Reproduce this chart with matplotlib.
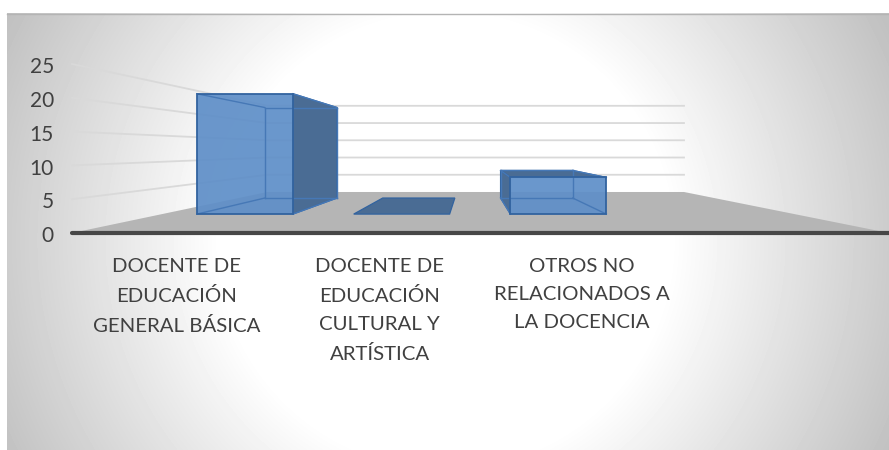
import numpy as np
import matplotlib
matplotlib.use("Agg")
import matplotlib.pyplot as plt
from matplotlib.patches import Polygon
from matplotlib.transforms import ScaledTranslation

categories = ["DOCENTE DE\nEDUCACIÓN\nGENERAL BÁSICA",
              "DOCENTE DE\nEDUCACIÓN\nCULTURAL Y\nARTÍSTICA",
              "OTROS NO\nRELACIONADOS A\nLA DOCENCIA"]
values = [23, 0, 7]
y_ticks = [0, 5, 10, 15, 20, 25]

W, H = 889, 450
plt.rcParams['font.family'] = ['Lato', 'DejaVu Sans']
fig = plt.figure(figsize=(W / 100, H / 100), dpi=100, facecolor='white')

# background gradient
bg = fig.add_axes([7 / W, 0, 1 - 7 / W, (H - 13) / H], zorder=0)
yy, xx = np.mgrid[13:450:1.0, 7:889:1.0]
r = np.hypot(xx - 445, yy - 240)
g = 255 - 62 * np.clip((r - 225) / 265, 0, 1)
bg.imshow(g, cmap='gray', vmin=0, vmax=255, aspect='auto', interpolation='bilinear')
bg.axis('off')
fig.add_artist(plt.Line2D([7 / W, 1], [(H - 13.5) / H] * 2, color='#B4B4B4', lw=1))

# front plane of the 3-D box is the real data axes
ax = fig.add_axes([72 / W, (H - 233) / H, (889 - 72) / W, (233 - 64) / H], zorder=1)
ax.patch.set_alpha(0)
ax.set_xlim(-0.5185, 3.516)
ax.set_ylim(0, 25)
for s in ax.spines.values():
    s.set_visible(False)

VP = (1.45, 12.38)      # vanishing point, data units
F_FLOOR, F_FRONT, F_BACK = 0.51, 0.774, 0.582
BAR_W, BAR_OFF = 0.612, 0.01
x0, x1 = ax.get_xlim()


def P(x, v, f):
    return (VP[0] + (x - VP[0]) * f, VP[1] + (v - VP[1]) * f)


def poly(pts, **kw):
    ax.add_patch(Polygon(pts, closed=True, clip_on=False, **kw))


# floor
poly([P(x0, 0, 1), P(x1, 0, 1), P(x1, 0, F_FLOOR), P(x0, 0, F_FLOOR)],
     fc='#B5B5B5', ec='none', zorder=2)
# wall gridlines
for v in y_ticks[1:]:
    a, b, c = P(x0, v, 1), P(x0, v, F_FLOOR), P(x1, v, F_FLOOR)
    ax.plot([a[0], b[0], c[0]], [a[1], b[1], c[1]], color='#D9D9D9', lw=1.3,
            clip_on=False, zorder=1.5, solid_joinstyle='miter')
# axis line
ax.plot([x0, x1], [0, 0], color='#474747', lw=3, clip_on=False, zorder=3,
        solid_capstyle='round')

DARK, FRONT, EDGE, INNER = '#4A6C94', '#5F8FC8', '#32639F', '#4678B6'
for i, v in enumerate(values):
    l, r_ = i + BAR_OFF - BAR_W / 2, i + BAR_OFF + BAR_W / 2
    fbl, fbr, ftl, ftr = P(l, 0, F_FRONT), P(r_, 0, F_FRONT), P(l, v, F_FRONT), P(r_, v, F_FRONT)
    bbl, bbr, btl, btr = P(l, 0, F_BACK), P(r_, 0, F_BACK), P(l, v, F_BACK), P(r_, v, F_BACK)
    kw = dict(fc=DARK, ec=EDGE, lw=0.9, zorder=4)
    if v < VP[1]:
        poly([ftl, ftr, btr, btl], **kw)
    if v == 0:
        continue
    if btr[0] > ftr[0]:
        poly([fbr, ftr, btr, bbr], **kw)
    if btl[0] < ftl[0]:
        poly([fbl, ftl, btl, bbl], **kw)
    poly([fbl, fbr, ftr, ftl], fc=FRONT, ec='none', alpha=0.93, zorder=5)
    for a, b in [(fbl, bbl), (fbr, bbr), (ftl, btl), (ftr, btr),
                 (bbl, bbr), (bbl, btl), (bbr, btr), (btl, btr)]:
        ax.plot([a[0], b[0]], [a[1], b[1]], color=INNER, lw=1.0, clip_on=False, zorder=5.5)
    poly([fbl, fbr, ftr, ftl], fc='none', ec=EDGE, lw=1.3, zorder=6)

ax.set_yticks(y_ticks)
ax.set_yticklabels([str(t) for t in y_ticks], fontsize=15, color='#404040')
ax.tick_params(axis='y', length=0, pad=13)
shift = ScaledTranslation(0, -0.8 / 72, fig.dpi_scale_trans)
for t in ax.get_yticklabels():
    t.set_transform(t.get_transform() + shift)
ax.set_xticks(range(len(categories)))
ax.set_xticklabels(categories, fontsize=14.7, color='#404040', linespacing=1.79)
ax.tick_params(axis='x', length=0, pad=18)

fig.savefig('out.png', dpi=100)
